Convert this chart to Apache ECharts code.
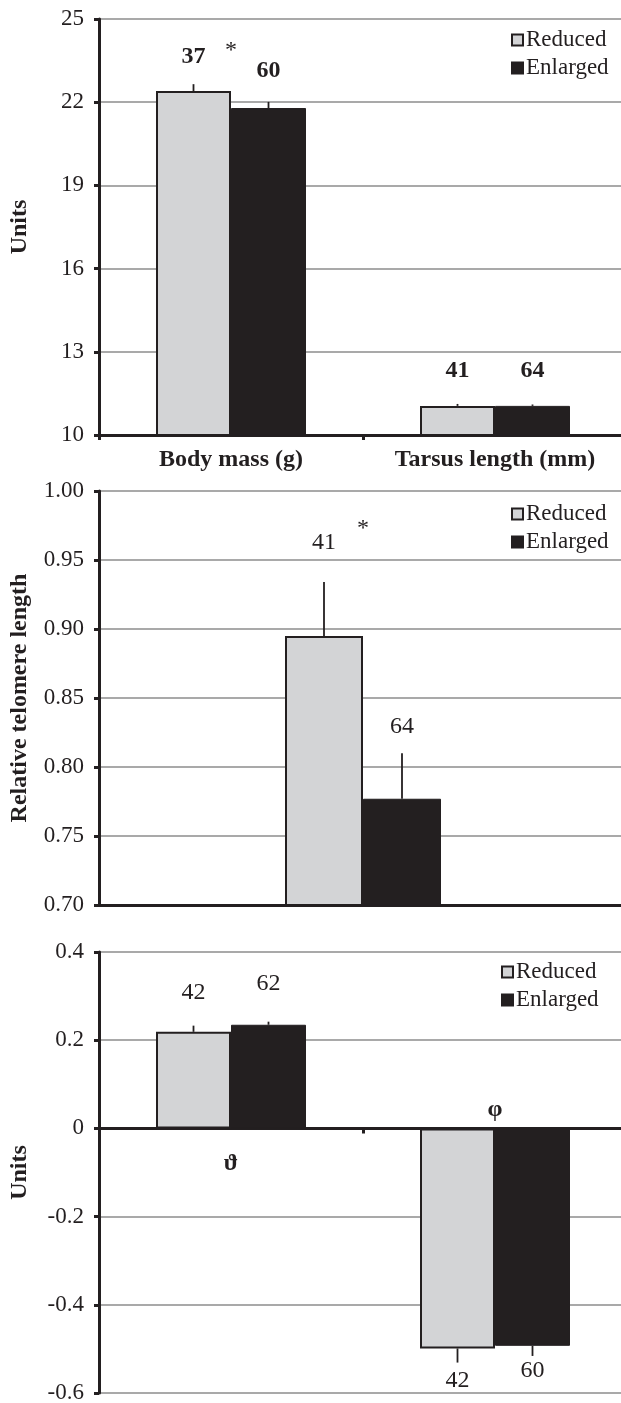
<!DOCTYPE html>
<html><head><meta charset="utf-8">
<script src="https://cdn.jsdelivr.net/npm/echarts@6/dist/echarts.min.js"></script>
<style>html,body{margin:0;padding:0;background:#fff}#c{width:621px;height:1403px}</style>
</head><body><div id="c"></div>
<script>
// ---------- data ----------
const seriesNames = ['Reduced', 'Enlarged'];
// Panel A
const catsA = ['Body mass (g)', 'Tarsus length (mm)'];
const reducedA = [22.40, 11.05];
const enlargedA = [21.79, 11.05];
const reducedErrA = [0.25, 0.07];
const enlargedErrA = [0.22, 0.05];
const reducedNA = [37, 41];
const enlargedNA = [60, 64];
// Panel B
const catsB = ['Telomere'];
const reducedB = [0.895];
const enlargedB = [0.777];
const reducedErrB = [0.039];
const enlargedErrB = [0.033];
const reducedNB = [41];
const enlargedNB = [64];
// Panel C
const catsC = ['ϑ', 'φ'];
const reducedC = [0.219, -0.499];
const enlargedC = [0.235, -0.493];
const reducedErrC = [0.014, 0.032];
const enlargedErrC = [0.007, 0.023];
const reducedNC = [42, 42];
const enlargedNC = [62, 60];
// axis ranges [min, max, interval]
const yRangeA = [10, 25, 3];
const yRangeB = [0.70, 1.00, 0.05];
const yRangeC = [-0.6, 0.4, 0.2];
const yNames = ['Units', 'Relative telomere length', 'Units'];
const sigMark = '*';

// ---------- styles ----------
const FONT = 'Liberation Serif';
const INK = '#231f20';
const GRAY = '#d3d4d6';
const GRID_LINE = '#8c8c8c';
const FS = 24;
const FS_TICK = 23;
const FS_LEG = 23;

const grids = [
  {left: 99, top: 19, width: 528, height: 416, outerBoundsMode: 'none', containLabel: false},
  {left: 99, top: 491, width: 528, height: 414, outerBoundsMode: 'none', containLabel: false},
  {left: 99, top: 952, width: 528, height: 441, outerBoundsMode: 'none', containLabel: false}
];

function yAxis(gi, range, name, fmt) {
  return {
    type: 'value', gridIndex: gi, min: range[0], max: range[1], interval: range[2],
    name: name, nameLocation: 'middle', nameGap: 67,
    nameTextStyle: {fontFamily: FONT, fontWeight: 'bold', fontSize: FS, color: INK},
    axisLine: {show: true, lineStyle: {color: INK, width: 3}},
    axisTick: {show: true, length: 5, lineStyle: {color: INK, width: 3}},
    axisLabel: {fontFamily: FONT, fontSize: FS_TICK, color: INK, margin: 15, formatter: fmt},
    splitLine: {show: true, lineStyle: {color: GRID_LINE, width: 1.5}}
  };
}

function xAxis(gi, cats, opts) {
  return Object.assign({
    type: 'category', gridIndex: gi, data: cats,
    axisLine: {show: true, onZero: true, lineStyle: {color: INK, width: 3}},
    axisTick: {show: true, length: 5, lineStyle: {color: INK, width: 3}},
    axisLabel: {show: true, fontFamily: FONT, fontSize: FS, fontWeight: 'bold', color: INK, margin: 13},
    splitLine: {show: false}
  }, opts || {});
}

function barSeries(name, xi, yi, vals, ns, dists, bw, bold) {
  const isRed = name === 'Reduced';
  return {
    name: name, type: 'bar', xAxisIndex: xi, yAxisIndex: yi,
    barWidth: bw, barGap: '0%', z: 3,
    itemStyle: {color: isRed ? GRAY : INK, borderColor: INK, borderWidth: isRed ? 2 : 1},
    data: vals.map((v, i) => ({
      value: v,
      label: {position: v < 0 ? 'bottom' : 'top', distance: dists[i]}
    })),
    label: {
      show: true, fontFamily: FONT, fontSize: FS, color: INK,
      fontWeight: bold ? 'bold' : 'normal',
      formatter: p => String(ns[p.dataIndex])
    }
  };
}

function errSeries(xi, yi, vals, errs, side, bw) {
  return {
    type: 'custom', xAxisIndex: xi, yAxisIndex: yi, z: 2, silent: true,
    data: vals.map((v, i) => [i, v, v + (v < 0 ? -1 : 1) * errs[i]]),
    renderItem: (params, api) => {
      const p1 = api.coord([api.value(0), api.value(1)]);
      const p2 = api.coord([api.value(0), api.value(2)]);
      const x = p1[0] + side * bw / 2;
      return {type: 'line', shape: {x1: x, y1: p1[1], x2: x, y2: p2[1]},
        style: {stroke: INK, lineWidth: 1.8}};
    }
  };
}

// annotation layer: text placed at category / value coordinates
function notes(xi, yi, items) {
  return {
    type: 'scatter', xAxisIndex: xi, yAxisIndex: yi, data: [], silent: true,
    markPoint: {
      symbol: 'circle', symbolSize: 0, silent: true, animation: false,
      data: items.map(it => ({
        coord: it.coord,
        label: {show: true, formatter: it.text, position: 'inside', fontFamily: FONT,
          fontSize: it.size, fontWeight: it.bold ? 'bold' : 'normal', color: INK}
      }))
    }
  };
}

function legend(top, left) {
  return {
    top: top, left: left, orient: 'vertical', itemGap: 4,
    itemWidth: 11, itemHeight: 11, icon: 'rect', selectedMode: false,
    data: seriesNames,
    textStyle: {fontFamily: FONT, fontSize: FS_LEG, color: INK, lineHeight: 24, padding: [0, 0, 0, -2]}
  };
}

const fmtA = v => String(v);
const fmtB = v => v.toFixed(2);
const fmtC = v => Math.abs(v) < 1e-9 ? '0' : v.toFixed(1);

const option = {
  animation: false,
  backgroundColor: '#fff',
  grid: grids,
  legend: [legend(23, 506), legend(497, 506), legend(955, 496)],
  xAxis: [
    xAxis(0, catsA),
    xAxis(1, catsB, {axisLabel: {show: false}, axisTick: {show: false}}),
    xAxis(2, catsC, {axisLabel: {show: false}})
  ],
  yAxis: [
    yAxis(0, yRangeA, yNames[0], fmtA),
    yAxis(1, yRangeB, yNames[1], fmtB),
    yAxis(2, yRangeC, yNames[2], fmtC)
  ],
  series: [
    errSeries(0, 0, reducedA, reducedErrA, -1, 75),
    errSeries(0, 0, enlargedA, enlargedErrA, 1, 75),
    barSeries('Reduced', 0, 0, reducedA, reducedNA, [22, 23], 75, true),
    barSeries('Enlarged', 0, 0, enlargedA, enlargedNA, [25, 23], 75, true),
    notes(0, 0, [{coord: [0, 23.85], text: sigMark, size: 24}]),

    errSeries(1, 1, reducedB, reducedErrB, -1, 78),
    errSeries(1, 1, enlargedB, enlargedErrB, 1, 78),
    barSeries('Reduced', 1, 1, reducedB, reducedNB, [81], 78, false),
    barSeries('Enlarged', 1, 1, enlargedB, enlargedNB, [60], 78, false),
    notes(1, 1, [{coord: [0, 0.9725], text: sigMark, size: 24}]),

    errSeries(2, 2, reducedC, reducedErrC, -1, 75),
    errSeries(2, 2, enlargedC, enlargedErrC, 1, 75),
    barSeries('Reduced', 2, 2, reducedC, reducedNC, [27, 20], 75, false),
    barSeries('Enlarged', 2, 2, enlargedC, enlargedNC, [29, 13], 75, false),
    notes(2, 2, [
      {coord: [0, -0.081], text: catsC[0], size: FS, bold: true},
      {coord: [1, 0.043], text: catsC[1], size: FS, bold: true}
    ])
  ]
};

const chart = echarts.init(document.getElementById('c'), null, {renderer: 'canvas'});
chart.setOption(option);
</script>
</body></html>
